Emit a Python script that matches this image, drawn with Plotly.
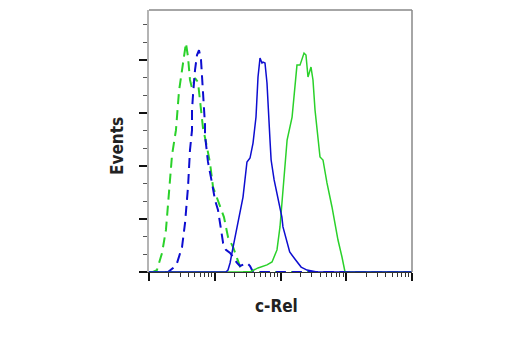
import plotly.graph_objects as go

# Fluorescence intensity (log axis) and event counts for each histogram
iso_green_x = [1, 1.15, 1.32, 1.58, 1.81, 2.02, 2.24, 2.57, 2.67, 2.86, 3.18, 3.41, 3.65, 3.92, 4.20,
               4.51, 5.01, 5.56, 5.97, 6.18, 6.63, 7.62, 8.47, 9.41, 12.0, 13.8, 15.9, 19.0, 21.8,
               24.2, 26.0, 10000]
iso_green_y = [0, 0, 1.1, 10.8, 23.8, 46.4, 66.2, 80.3, 90.5, 102.4, 114.3, 122.8, 129.6, 121.7, 108.7,
               104.1, 109.8, 107.5, 97.3, 90.5, 81.5, 70.7, 61.7, 48.1, 36.8, 31.1, 19.8, 14.1, 7.9,
               2.8, 0, 0]

iso_blue_x = [1, 1.95, 2.32, 2.67, 3.18, 3.53, 3.92, 4.20, 4.51, 4.51, 4.67, 5.01, 5.37, 5.76, 6.18,
              6.40, 6.86, 7.11, 7.11, 7.89, 9.08, 10.1, 11.2, 12.9, 13.4, 14.8, 17.1, 19.0, 21.8,
              24.2, 26.9, 30.9, 34.4, 38.2, 10000]
iso_blue_y = [0, 0, 2.3, 5.1, 14.1, 27.7, 48.1, 69.0, 80.3, 91.7, 100.2, 114.3, 122.8, 125.6, 120.0,
              111.5, 97.3, 83.2, 77.5, 62.3, 50.4, 40.7, 35.1, 22.1, 16.4, 12.5, 10.8, 8.5, 5.1,
              3.4, 4.0, 5.1, 3.4, 0, 0]

crel_green_x = [1, 34.4, 45.5, 62.3, 74.3, 88.4, 98.2, 109, 126, 150, 166, 178, 198, 212, 228, 244,
                262, 291, 312, 335, 372, 399, 443, 509, 607, 674, 749, 861, 958, 10000]
crel_green_y = [0, 0, 2.3, 4.0, 5.7, 12.5, 25.5, 46.4, 74.7, 87.7, 107.0, 117.1, 117.1, 121.1, 123.9,
                122.8, 110.4, 116.0, 108.7, 91.7, 74.7, 65.1, 63.4, 50.4, 36.8, 27.7, 18.1, 8.5, 0, 0]

crel_blue_x = [1, 14.8, 15.9, 17.1, 19.0, 22.6, 26.9, 30.9, 34.4, 38.2, 42.4, 45.5, 48.8, 52.3, 54.2,
               58.1, 62.3, 69.2, 72, 80, 91, 105, 109, 126, 138, 170, 206, 253, 359, 10000]
crel_blue_y = [0, 0, 1.1, 5.1, 14.1, 27.7, 42.4, 62.3, 64.5, 73.0, 87.7, 110.4, 121.1, 118.3, 118.8,
               118.3, 107.0, 74.7, 63.4, 52.1, 42.4, 31.1, 25.5, 16.4, 11.3, 6.8, 2.8, 1.1, 0, 0]

GREEN = "#2ad12a"
BLUE = "#0d0dd0"
TITLE_FONT = "Liberation Sans Narrow, Arial Narrow, DejaVu Sans Condensed, sans-serif"

fig = go.Figure()
fig.add_trace(go.Scatter(x=iso_green_x, y=iso_green_y, mode="lines",
                         line=dict(color=GREEN, width=2, dash="10px,6px")))
fig.add_trace(go.Scatter(x=iso_blue_x, y=iso_blue_y, mode="lines",
                         line=dict(color=BLUE, width=2, dash="10px,6px")))
fig.add_trace(go.Scatter(x=crel_green_x, y=crel_green_y, mode="lines",
                         line=dict(color=GREEN, width=1.5)))
fig.add_trace(go.Scatter(x=crel_blue_x, y=crel_blue_y, mode="lines",
                         line=dict(color=BLUE, width=1.5)))

# the page body adds an 8px offset, so margins are reduced accordingly
fig.update_layout(
    width=520, height=350,
    margin=dict(l=141, r=116, t=2, b=86, autoexpand=False),
    paper_bgcolor="white", plot_bgcolor="white",
    showlegend=False,
    font=dict(family="Liberation Sans, Arial, sans-serif", color="#222222"),
)
fig.update_xaxes(
    type="log", range=[0, 4], dtick=1,
    showgrid=False, zeroline=False, showticklabels=False,
    showline=True, linecolor="#333333", linewidth=1,
    ticks="outside", ticklen=8, tickwidth=2, tickcolor="#111111",
    minor=dict(ticks="outside", ticklen=4, tickwidth=1, tickcolor="#333333", dtick="D1", showgrid=False),
)
fig.update_yaxes(
    range=[0, 148.3], dtick=30, tick0=0,
    showgrid=False, zeroline=False, showticklabels=False,
    showline=True, linecolor="#b4b4b4", linewidth=2,
    ticks="outside", ticklen=8, tickwidth=2, tickcolor="#111111",
    minor=dict(ticks="outside", ticklen=4, tickwidth=1, tickcolor="#555555", dtick=10, showgrid=False),
)
# top and right frame
fig.add_shape(type="line", xref="paper", yref="paper", x0=0, x1=1, y0=1, y1=1,
              line=dict(color="#888888", width=1.5))
fig.add_shape(type="line", xref="paper", yref="paper", x0=1, x1=1, y0=0, y1=1,
              line=dict(color="#888888", width=1.5))

fig.add_annotation(text="<b>Events</b>", xref="paper", yref="paper",
                   x=(117 - 149) / 263, y=(272 - 146) / 262, showarrow=False,
                   textangle=-90, font=dict(size=17, color="#222222", family=TITLE_FONT),
                   xanchor="center", yanchor="middle")
fig.add_annotation(text="<b>c-Rel</b>", xref="paper", yref="paper",
                   x=(276 - 149) / 263, y=-(306 - 272) / 262, showarrow=False,
                   font=dict(size=17, color="#222222", family=TITLE_FONT),
                   xanchor="center", yanchor="middle")

fig.write_html("out.html")
